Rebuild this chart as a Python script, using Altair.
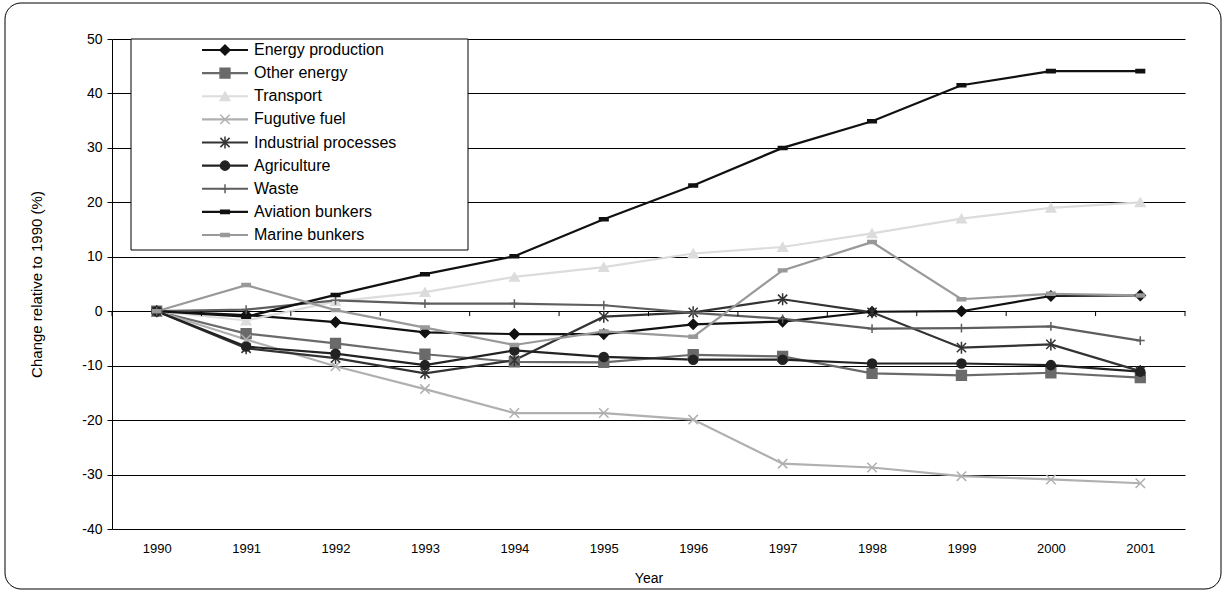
import altair as alt
import pandas as pd

years = list(range(1990, 2002))

series = ["Energy production", "Other energy", "Transport", "Fugutive fuel",
          "Industrial processes", "Agriculture", "Waste", "Aviation bunkers",
          "Marine bunkers"]

energy_production = [0, -0.7, -2.0, -3.9, -4.2, -4.2, -2.4, -1.9, -0.1, 0.0, 2.8, 2.9]
other_energy = [0, -4.1, -5.9, -7.9, -9.3, -9.4, -8.0, -8.3, -11.4, -11.8, -11.3, -12.2]
transport = [0, -1.7, 1.8, 3.5, 6.3, 8.1, 10.6, 11.8, 14.3, 17.0, 19.0, 20.0]
fugutive_fuel = [0, -5.2, -10.1, -14.3, -18.7, -18.7, -19.9, -28.0, -28.7, -30.3, -30.9, -31.6]
industrial = [0, -6.8, -8.6, -11.4, -9.0, -1.0, -0.2, 2.2, -0.2, -6.7, -6.1, -11.0]
agriculture = [0, -6.5, -7.8, -9.9, -7.2, -8.4, -8.9, -8.9, -9.6, -9.6, -9.9, -11.1]
waste = [0, 0.3, 2.0, 1.4, 1.4, 1.1, -0.3, -1.4, -3.2, -3.1, -2.8, -5.4]
aviation = [0, -1.0, 3.0, 6.8, 10.1, 16.9, 23.1, 30.0, 34.9, 41.5, 44.1, 44.1]
marine = [0, 4.8, 0.2, -3.0, -6.2, -3.7, -4.7, 7.5, 12.7, 2.2, 3.2, 2.9]

values = [energy_production, other_energy, transport, fugutive_fuel, industrial,
          agriculture, waste, aviation, marine]

colors = ["#111111", "#6a6a6a", "#dcdcdc", "#b0b0b0", "#333333", "#222222",
          "#5e5e5e", "#111111", "#999999"]
shapes = [
    "diamond",
    "square",
    "triangle-up",
    "M-1,-1L1,1M-1,1L1,-1",
    "M-1,-1L1,1M-1,1L1,-1M0,-1.3L0,1.3",
    "circle",
    "M-1,0L1,0M0,-1L0,1",
    "M-1,-0.35L1,-0.35L1,0.35L-1,0.35Z",
    "M-1,-0.35L1,-0.35L1,0.35L-1,0.35Z",
]
sizes = [100, 70, 85, 90, 110, 95, 140, 36, 45]

rows = []
for name, vals in zip(series, values):
    for yr, v in zip(years, vals):
        rows.append({"series": name, "year": yr, "value": v})
df = pd.DataFrame(rows)

tick_pos = [yr - 0.5 for yr in years] + [years[-1] + 0.5]
tick_df = pd.DataFrame({"year": tick_pos, "value": [0] * len(tick_pos), "low": [-0.9] * len(tick_pos)})

legend_df = pd.DataFrame({"series": series})

FONT = "Liberation Sans"
xscale = alt.Scale(domain=[1989.5, 2001.5], nice=False, zero=False)
yscale = alt.Scale(domain=[-40, 50], nice=False, zero=False)

color_scale = alt.Scale(domain=series, range=colors)
shape_scale = alt.Scale(domain=series, range=shapes)
size_scale = alt.Scale(domain=series, range=sizes)

x_axis = alt.Axis(
    values=years, labelExpr="'' + datum.value", grid=False, domain=False, ticks=False,
    labelFont=FONT, labelFontSize=13, labelColor="black", labelPadding=13,
    labelFlush=False, title="Year", titleFont=FONT, titleFontSize=14,
    titleFontWeight="normal", titleColor="black", titlePadding=16)

y_axis = alt.Axis(
    values=list(range(-40, 51, 10)), labelExpr="'' + datum.value",
    grid=True, gridColor="black", gridWidth=1,
    domain=True, domainColor="black", ticks=True, tickColor="black", tickSize=5,
    labelFont=FONT, labelFontSize=14, labelColor="black", labelPadding=5,
    title="Change relative to 1990 (%)", titleFont=FONT, titleFontSize=15,
    titleFontWeight="normal", titleColor="black", titlePadding=37)

x_main = alt.X("year:Q", scale=xscale, axis=x_axis, title="Year")
y_main = alt.Y("value:Q", scale=yscale, axis=y_axis, title="Change relative to 1990 (%)")

frame = alt.Chart(alt.Data(values=[{}])).mark_rect(
    filled=False, stroke="black", strokeWidth=1, cornerRadius=16
).encode(x=alt.value(-107), x2=alt.value(1109), y=alt.value(-36), y2=alt.value(550))

lines = alt.Chart(df).mark_line(strokeWidth=2.2).encode(
    x=x_main, y=y_main,
    color=alt.Color("series:N", scale=color_scale, legend=None),
)

ticks = alt.Chart(tick_df).mark_rule(color="black", strokeWidth=1).encode(
    x=x_main, y=y_main, y2="low:Q",
)

points = alt.Chart(df).mark_point(filled=True, opacity=1, strokeWidth=1.5).encode(
    x=x_main, y=y_main,
    fill=alt.Fill("series:N", scale=color_scale, legend=None),
    stroke=alt.Stroke("series:N", scale=color_scale, legend=None),
    shape=alt.Shape("series:N", scale=shape_scale, legend=None),
    size=alt.Size("series:N", scale=size_scale, legend=None),
)

data_layer = alt.layer(lines, ticks, points)

leg_y = alt.Y("series:N", scale=alt.Scale(type="point", domain=series, range=[11, 196], padding=0), axis=None)

leg_box = alt.Chart(alt.Data(values=[{}])).mark_rect(
    fill="white", stroke="black", strokeWidth=1
).encode(x=alt.value(19), x2=alt.value(356), y=alt.value(0), y2=alt.value(211))

leg_lines = alt.Chart(legend_df).mark_rule(strokeWidth=2.2).encode(
    x=alt.value(90), x2=alt.value(136), y=leg_y,
    color=alt.Color("series:N", scale=color_scale, legend=None),
)
leg_pts = alt.Chart(legend_df).mark_point(filled=True, opacity=1, strokeWidth=1.5).encode(
    x=alt.value(113), y=leg_y,
    fill=alt.Fill("series:N", scale=color_scale, legend=None),
    stroke=alt.Stroke("series:N", scale=color_scale, legend=None),
    shape=alt.Shape("series:N", scale=shape_scale, legend=None),
    size=alt.Size("series:N", scale=size_scale, legend=None),
)
leg_text = alt.Chart(legend_df).mark_text(
    align="left", baseline="middle", font=FONT, fontSize=16, color="black"
).encode(x=alt.value(142), y=leg_y, text="series:N")

legend_layer = alt.layer(leg_box, leg_lines, leg_pts, leg_text)

chart = alt.layer(data_layer, legend_layer, frame).resolve_scale(y="independent").properties(
    width=1073, height=490,
    autosize=alt.AutoSizeParams(type="none"),
    padding={"left": 112, "top": 39, "right": 41, "bottom": 63},
    background="white",
).configure_view(stroke=None)

chart.save("out.html", embed_options={"renderer": "svg", "actions": False})
